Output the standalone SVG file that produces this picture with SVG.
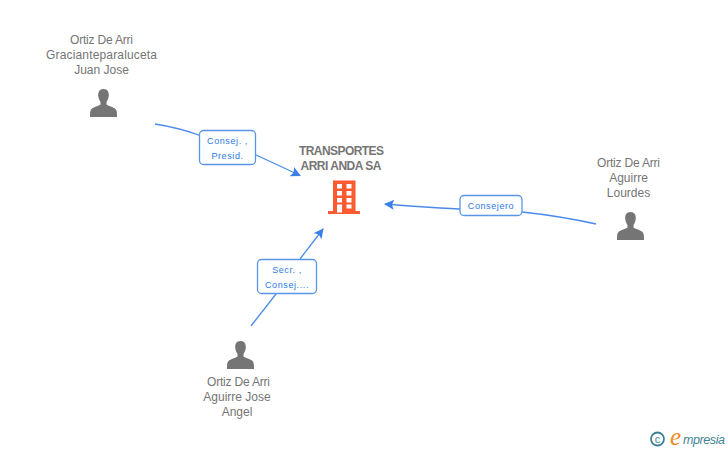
<svg xmlns="http://www.w3.org/2000/svg" width="728" height="450" viewBox="0 0 728 450">
<style>
text{font-family:"Liberation Sans",Arial,sans-serif}
.n{font-size:12px;fill:#757575;text-anchor:middle}
.t{font-size:12px;font-weight:bold;fill:#757575;text-anchor:middle}
.l{font-size:9px;fill:#2f7ae5;text-anchor:middle;letter-spacing:.6px}
.c{fill:none;stroke:#4a8bea;stroke-width:1.3}
.b{fill:#fdfefe;stroke:#5a95ea;stroke-width:1.3}
.p{fill:#757575}
.f{fill:#fe5a32}
.w{fill:#fff}
</style>
<defs>
<marker id="a" markerUnits="userSpaceOnUse" markerWidth="12" markerHeight="12" refX="9" refY="5" orient="auto"><path d="M0 0L10 5L0 10L2 5Z" fill="#3a80e8"/></marker>
<symbol id="person" viewBox="0 0 28 28" overflow="visible"><path class="p" d="M14 0C9.800 0 8.500 3.300 8.700 6.500C8.900 9.500 10 11.500 11 13L11 15.500C9.500 17 4 18 2 20C.5 21.500 .5 24 .5 28L27.500 28C27.500 24 27.500 21.500 26 20C24 18 18.500 17 17 15.500L17 13C18 11.500 19.100 9.500 19.300 6.500C19.500 3.300 18.200 0 14 0Z"/></symbol>
</defs>
<g id="connectors">
<path class="c" d="M155 124Q180 128 200 135.500"/>
<path class="c" d="M256 155Q278 165 300 175.500" marker-end="url(#a)"/>
<path class="c" d="M251 326L276 294"/>
<path class="c" d="M300 259L323 229" marker-end="url(#a)"/>
<path class="c" d="M596 224Q560 216 522 212"/>
<path class="c" d="M460 209Q420 207 385 204" marker-end="url(#a)"/>
<rect class="b" x="199.500" y="130.500" width="56" height="34" rx="4"/>
<text class="l" x="227.500" y="144">Consej. ,</text>
<text class="l" x="227.500" y="159">Presid.</text>
<rect class="b" x="257.500" y="259.500" width="59" height="34" rx="4"/>
<text class="l" x="287" y="273">Secr. ,</text>
<text class="l" x="287" y="288">Consej....</text>
<rect class="b" x="460" y="195.500" width="62" height="20" rx="4"/>
<text class="l" x="491" y="209">Consejero</text>
</g>
<g id="company">
<text class="t" x="341.500" y="155" textLength="85" lengthAdjust="spacing">TRANSPORTES</text>
<text class="t" x="341" y="170" textLength="81" lengthAdjust="spacing">ARRI ANDA SA</text>
<path class="f" d="M333 180.500H355.500V211H360V214H328V211H333Z"/>
<g class="w"><rect x="337" y="184" width="5" height="4.500"/><rect x="346.500" y="184" width="5" height="4.500"/><rect x="337" y="191" width="5" height="4.500"/><rect x="346.500" y="191" width="5" height="4.500"/><rect x="337" y="198" width="5" height="4.500"/><rect x="346.500" y="198" width="5" height="4.500"/><rect x="337" y="204.500" width="5" height="8"/><rect x="346.500" y="204.500" width="5" height="4"/></g>
</g>
<g id="person1">
<text class="n" x="101.500" y="44" textLength="63">Ortiz De Arri</text>
<text class="n" x="101.500" y="59" textLength="111">Gracianteparaluceta</text>
<text class="n" x="101.500" y="74">Juan Jose</text>
<use href="#person" x="89.500" y="89" width="28" height="28"/>
</g>
<g id="person2">
<text class="n" x="628.500" y="167" textLength="63">Ortiz De Arri</text>
<text class="n" x="628.500" y="182">Aguirre</text>
<text class="n" x="628.500" y="197">Lourdes</text>
<use href="#person" x="616.500" y="212" width="28" height="28"/>
</g>
<g id="person3">
<use href="#person" x="226.500" y="341" width="28" height="28"/>
<text class="n" x="238.500" y="386" textLength="63">Ortiz De Arri</text>
<text class="n" x="237" y="401">Aguirre Jose</text>
<text class="n" x="237" y="416">Angel</text>
</g>
<g id="credit">
<circle cx="657.500" cy="439" r="6.500" fill="none" stroke="#3f7f96" stroke-width="1.800"/>
<text x="657.500" y="442.500" font-size="11" fill="#3f7f96" text-anchor="middle">c</text>
<text x="670" y="445" font-size="25" font-style="italic" fill="#f08a1d" style="font-family:'Liberation Serif',serif">e</text>
<text x="683" y="444" font-size="12.500" font-style="italic" fill="#3f8496" textLength="42">mpresia</text>
</g>
</svg>
